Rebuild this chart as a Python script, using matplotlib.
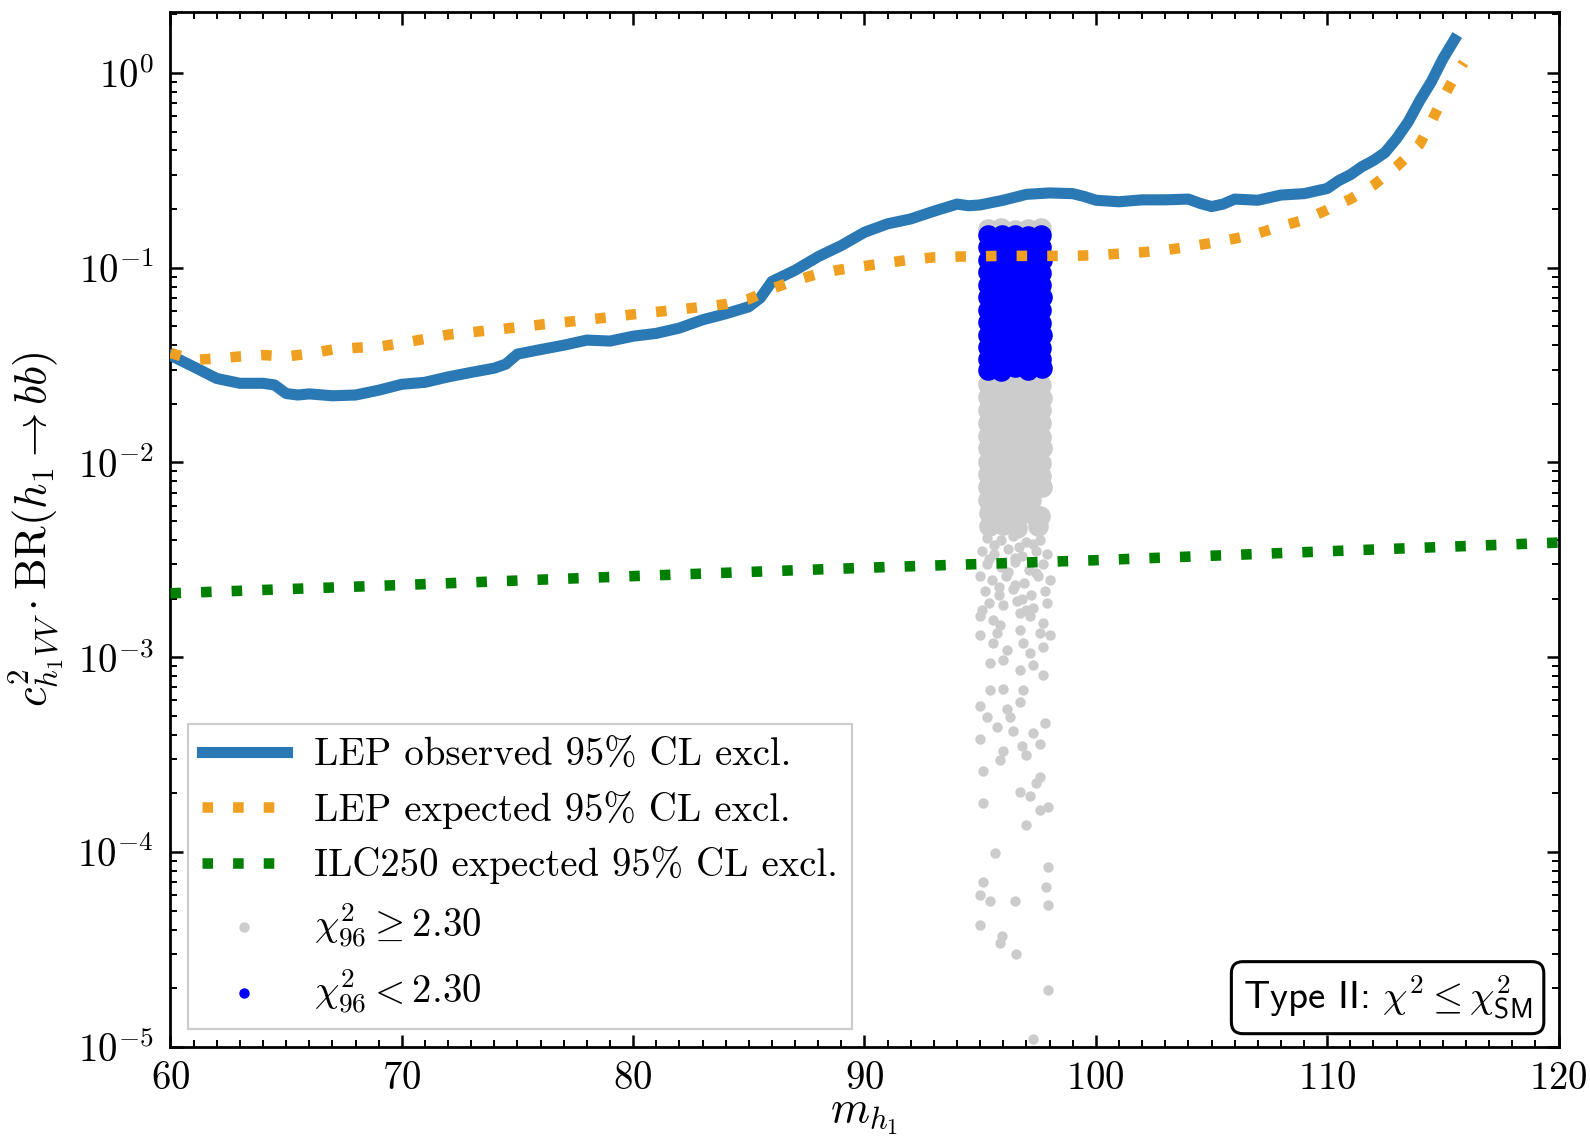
import matplotlib
matplotlib.use('Agg')
import matplotlib.pyplot as plt
from matplotlib.ticker import AutoMinorLocator, LogLocator, NullFormatter

plt.rcParams['font.family'] = ['cmr10', 'DejaVu Serif']
plt.rcParams['mathtext.fontset'] = 'cm'
plt.rcParams['axes.formatter.use_mathtext'] = True

# LEP observed limit
obs_x = [60, 61, 62, 63, 64, 64.5, 65, 65.5, 66, 67, 68, 69, 70, 71, 72, 73, 74, 74.5,
         75, 76, 77, 78, 79, 80, 81, 82, 83, 84, 85, 85.5, 86, 87, 88, 89, 90, 91, 92,
         93, 94, 94.5, 95, 96, 97, 98, 99, 99.5, 100, 101, 102, 103, 104, 104.5, 105,
         105.5, 106, 107, 108, 109, 110, 110.5, 111, 111.5, 112, 112.5, 113, 113.5,
         114, 114.5, 115, 115.5]
obs_y = [0.0355, 0.031, 0.027, 0.0255, 0.0255, 0.025, 0.0226, 0.0222, 0.0225, 0.022,
         0.0222, 0.0235, 0.0252, 0.0258, 0.0275, 0.029, 0.0305, 0.032, 0.036, 0.038,
         0.040, 0.0425, 0.042, 0.0445, 0.046, 0.049, 0.054, 0.058, 0.063, 0.070, 0.085,
         0.097, 0.114, 0.130, 0.152, 0.168, 0.178, 0.195, 0.212, 0.208, 0.210, 0.222,
         0.238, 0.242, 0.240, 0.232, 0.222, 0.218, 0.223, 0.223, 0.225, 0.214, 0.206,
         0.212, 0.225, 0.222, 0.236, 0.240, 0.255, 0.280, 0.300, 0.330, 0.355, 0.390,
         0.460, 0.560, 0.720, 0.900, 1.18, 1.48]

# LEP expected limit
exp_x = [60, 61, 62, 63, 64, 65, 66, 67, 68, 69, 70, 72, 74, 76, 78, 80, 82, 84, 85,
         86, 87, 88, 89, 90, 91, 92, 93, 94, 96, 98, 99, 100, 101, 102, 103, 104, 105,
         106, 107, 108, 109, 110, 111, 112, 113, 114, 114.5, 115, 115.5, 115.9]
exp_y = [0.0365, 0.0336, 0.0342, 0.035, 0.0356, 0.035, 0.0362, 0.038, 0.0388, 0.0393,
         0.041, 0.0453, 0.048, 0.051, 0.054, 0.0576, 0.061, 0.065, 0.069, 0.078, 0.086,
         0.093, 0.098, 0.102, 0.106, 0.110, 0.113, 0.114, 0.115, 0.115, 0.115, 0.116,
         0.118, 0.120, 0.123, 0.128, 0.134, 0.141, 0.150, 0.163, 0.176, 0.198, 0.225,
         0.265, 0.330, 0.430, 0.560, 0.740, 0.950, 1.13]

# ILC250 expected limit
ilc_x = [60, 70, 80, 90, 100, 110, 120]
ilc_y = [0.00213, 0.00235, 0.00261, 0.00288, 0.00315, 0.0035, 0.00388]

# chi2_96 < 2.30 points (dense block)
blue_x = [95.35, 95.90, 96.52, 97.06, 97.66,
          95.33, 95.94, 96.48, 97.10, 97.64,
          95.36, 95.91, 96.50, 97.07, 97.65,
          95.34, 95.93, 96.49, 97.09, 97.66,
          95.35, 95.90, 96.51, 97.08, 97.64,
          95.33, 95.92, 96.50, 97.06, 97.65,
          95.36, 95.91, 96.48, 97.09, 97.66,
          95.34, 95.93, 96.52, 97.07, 97.64,
          95.35, 95.90, 96.50, 97.08, 97.65,
          95.33, 95.92, 96.49, 97.10, 97.66,
          95.36, 95.91, 96.51, 97.06, 97.64,
          95.34, 95.93, 96.50, 97.08, 97.65]
blue_y = [0.0300, 0.0296, 0.0310, 0.0298, 0.0306,
          0.0340, 0.0336, 0.0342, 0.0337, 0.0341,
          0.0390, 0.0393, 0.0388, 0.0391, 0.0389,
          0.0452, 0.0450, 0.0454, 0.0451, 0.0453,
          0.0524, 0.0526, 0.0522, 0.0525, 0.0523,
          0.0608, 0.0606, 0.0610, 0.0607, 0.0609,
          0.0705, 0.0708, 0.0703, 0.0706, 0.0704,
          0.0815, 0.0812, 0.0817, 0.0814, 0.0816,
          0.0945, 0.0948, 0.0943, 0.0946, 0.0944,
          0.109, 0.110, 0.109, 0.110, 0.109,
          0.127, 0.128, 0.126, 0.127, 0.128,
          0.147, 0.148, 0.147, 0.146, 0.148]

# chi2_96 >= 2.30 points, dense part of the column
grey_dense_x = [95.35, 95.92, 96.50, 97.08, 97.65,
                95.35, 95.92, 96.50, 97.08, 97.65,
                95.33, 95.90, 96.47, 97.06, 97.66,
                95.36, 95.93, 96.52, 97.09, 97.64,
                95.34, 95.91, 96.49, 97.07, 97.65,
                95.35, 95.92, 96.51, 97.08, 97.64,
                95.33, 95.90, 96.48, 97.06, 97.66,
                95.36, 95.93, 96.50, 97.10, 97.63,
                95.34, 95.91, 96.52, 97.07, 97.62,
                95.35, 95.94, 96.49, 97.05, 97.66,
                95.35, 95.95, 96.55, 97.20,
                95.38, 95.92, 96.50, 97.10, 97.60,
                95.40, 96.00, 96.60, 97.50]
grey_dense_y = [0.158, 0.159, 0.157, 0.158, 0.159,
                0.0252, 0.0249, 0.0253, 0.0250, 0.0251,
                0.0216, 0.0218, 0.0214, 0.0217, 0.0215,
                0.0186, 0.0184, 0.0188, 0.0185, 0.0187,
                0.0160, 0.0162, 0.0158, 0.0161, 0.0159,
                0.0137, 0.0136, 0.0139, 0.0137, 0.0135,
                0.0118, 0.0120, 0.0117, 0.0119, 0.0118,
                0.0101, 0.0100, 0.0103, 0.0101, 0.0099,
                0.0087, 0.0088, 0.0086, 0.0087, 0.0085,
                0.0075, 0.0074, 0.0076, 0.0073, 0.0075,
                0.0064, 0.0065, 0.0063, 0.0064,
                0.0055, 0.0056, 0.0054, 0.0055, 0.0053,
                0.0047, 0.0048, 0.0046, 0.0047]

# chi2_96 >= 2.30 points, sparse tail
grey_x = [95.30, 95.90, 96.40, 97.00, 97.60, 95.60, 96.70, 97.30,
          95.10, 95.60, 96.20, 96.80, 97.40, 97.90, 96.50, 95.40,
          95.30, 95.90, 96.50, 97.10, 97.70, 96.20, 97.40,
          95.00, 95.50, 96.10, 96.90, 97.50, 98.00, 96.50, 95.80,
          95.20, 95.80, 96.40, 97.20, 97.80, 96.80,
          95.40, 96.00, 96.60, 97.30, 97.90, 95.10, 97.00,
          95.00, 95.57, 95.86, 96.71, 97.14, 97.71,
          95.00, 95.71, 96.71, 97.57, 98.00,
          95.57, 96.14, 96.86, 97.14, 97.71,
          95.43, 96.00, 96.71, 97.29, 97.71,
          95.43, 96.00, 96.86, 96.71,
          95.00, 95.29, 96.14, 96.29,
          95.71, 96.43, 97.29, 97.79,
          95.00, 97.57, 96.00, 95.86, 96.79, 97.00,
          95.14, 97.57, 97.43, 96.71, 97.14,
          95.14, 97.57, 97.93, 97.00,
          95.64, 97.93, 95.14, 95.00, 95.43, 96.50, 97.86, 97.93,
          95.00, 95.93, 95.86, 96.57, 97.93, 97.29]
grey_y = [4.1e-3, 4.0e-3, 4.2e-3, 3.9e-3, 4.0e-3, 3.75e-3, 3.7e-3, 3.8e-3,
          3.5e-3, 3.4e-3, 3.6e-3, 3.3e-3, 3.5e-3, 3.4e-3, 3.25e-3, 3.2e-3,
          3.0e-3, 2.9e-3, 3.1e-3, 2.8e-3, 3.0e-3, 2.75e-3, 2.7e-3,
          2.6e-3, 2.5e-3, 2.6e-3, 2.4e-3, 2.6e-3, 2.5e-3, 2.35e-3, 2.3e-3,
          2.2e-3, 2.1e-3, 2.25e-3, 2.1e-3, 2.2e-3, 2.0e-3,
          1.9e-3, 1.85e-3, 1.95e-3, 1.8e-3, 1.9e-3, 1.75e-3, 1.75e-3,
          1.62e-3, 1.56e-3, 1.47e-3, 1.68e-3, 1.62e-3, 1.50e-3,
          1.30e-3, 1.33e-3, 1.38e-3, 1.33e-3, 1.30e-3,
          1.18e-3, 1.09e-3, 1.18e-3, 1.05e-3, 1.13e-3,
          9.3e-4, 9.7e-4, 8.6e-4, 9.1e-4, 8.1e-4,
          6.8e-4, 6.9e-4, 6.8e-4, 5.9e-4,
          5.6e-4, 4.95e-4, 5.4e-4, 4.95e-4,
          4.4e-4, 4.2e-4, 4.1e-4, 4.6e-4,
          3.8e-4, 3.6e-4, 3.3e-4, 2.97e-4, 3.5e-4, 3.15e-4,
          2.6e-4, 2.44e-4, 2.25e-4, 2.04e-4, 1.93e-4,
          1.78e-4, 1.64e-4, 1.71e-4, 1.38e-4,
          9.9e-5, 8.4e-5, 7.0e-5, 6.0e-5, 5.6e-5, 5.6e-5, 6.65e-5, 5.36e-5,
          4.2e-5, 3.7e-5, 3.4e-5, 3.0e-5, 1.96e-5, 1.1e-5]

fig = plt.figure(figsize=(7.95, 5.69), dpi=200)
ax = fig.add_axes([0.1072, 0.0801, 0.873, 0.9092])

sg = ax.scatter(grey_x, grey_y, s=14, c='#cccccc', lw=0, zorder=2,
                label=r'$\chi^2_{96} \geq 2.30$')
ax.scatter(grey_dense_x, grey_dense_y, s=55, c='#cccccc', lw=0, zorder=2)
sb = ax.scatter(blue_x, blue_y, s=55, c='#0000ff', lw=0, zorder=3,
                label=r'$\chi^2_{96} < 2.30$')

l1, = ax.plot(obs_x, obs_y, color='#2a78b4', lw=4.0, zorder=4,
              label='LEP observed 95% CL excl.')
l2, = ax.plot(exp_x, exp_y, color='#f0a020', lw=3.8, ls=(0, (1, 1.9)), zorder=5,
              label='LEP expected 95% CL excl.')
l3, = ax.plot(ilc_x, ilc_y, color='green', lw=3.8, ls=(0, (1, 1.9)), zorder=5,
              label='ILC250 expected 95% CL excl.')

ax.set_xlim(60, 120)
ax.set_yscale('log')
ax.set_ylim(1e-5, 2.05)
ax.xaxis.set_minor_locator(AutoMinorLocator(10))
ax.yaxis.set_major_locator(LogLocator(base=10, numticks=12))
ax.yaxis.set_minor_locator(LogLocator(base=10, subs=range(2, 10), numticks=12))
ax.yaxis.set_minor_formatter(NullFormatter())

ax.tick_params(which='both', direction='in', top=True, right=True, labelsize=14)
ax.tick_params(which='major', length=4.5, width=0.9)
ax.tick_params(which='minor', length=2.5, width=0.7)
ax.tick_params(axis='x', pad=5)
ax.tick_params(axis='y', pad=6)
for sp in ax.spines.values():
    sp.set_linewidth(1.0)

ax.set_xlabel(r'$m_{h_1}$', fontsize=16, labelpad=0)
ax.set_ylabel(r'$c^2_{h_1VV}\cdot\mathrm{BR}(h_1\to bb)$', fontsize=16)

leg = ax.legend(handles=[l1, l2, l3, sg, sb], loc='lower left', fontsize=14,
                fancybox=False, edgecolor='0.8', framealpha=1, borderpad=0.35,
                labelspacing=0.44, handlelength=2.2, handletextpad=0.7,
                borderaxespad=0.45)
leg.get_frame().set_linewidth(0.8)
leg.legend_handles[3].set_sizes([14])
leg.legend_handles[4].set_sizes([14])

ax.text(0.981, 0.024, r'Type II: $\chi^2 \leq \chi^2_{\mathsf{SM}}$',
        transform=ax.transAxes, ha='right', va='bottom', fontsize=14,
        family=['cmss10', 'DejaVu Sans'], zorder=6,
        bbox=dict(boxstyle='round,pad=0.3', fc='white', ec='black', lw=1.1))

fig.savefig('out.png', dpi=200)
